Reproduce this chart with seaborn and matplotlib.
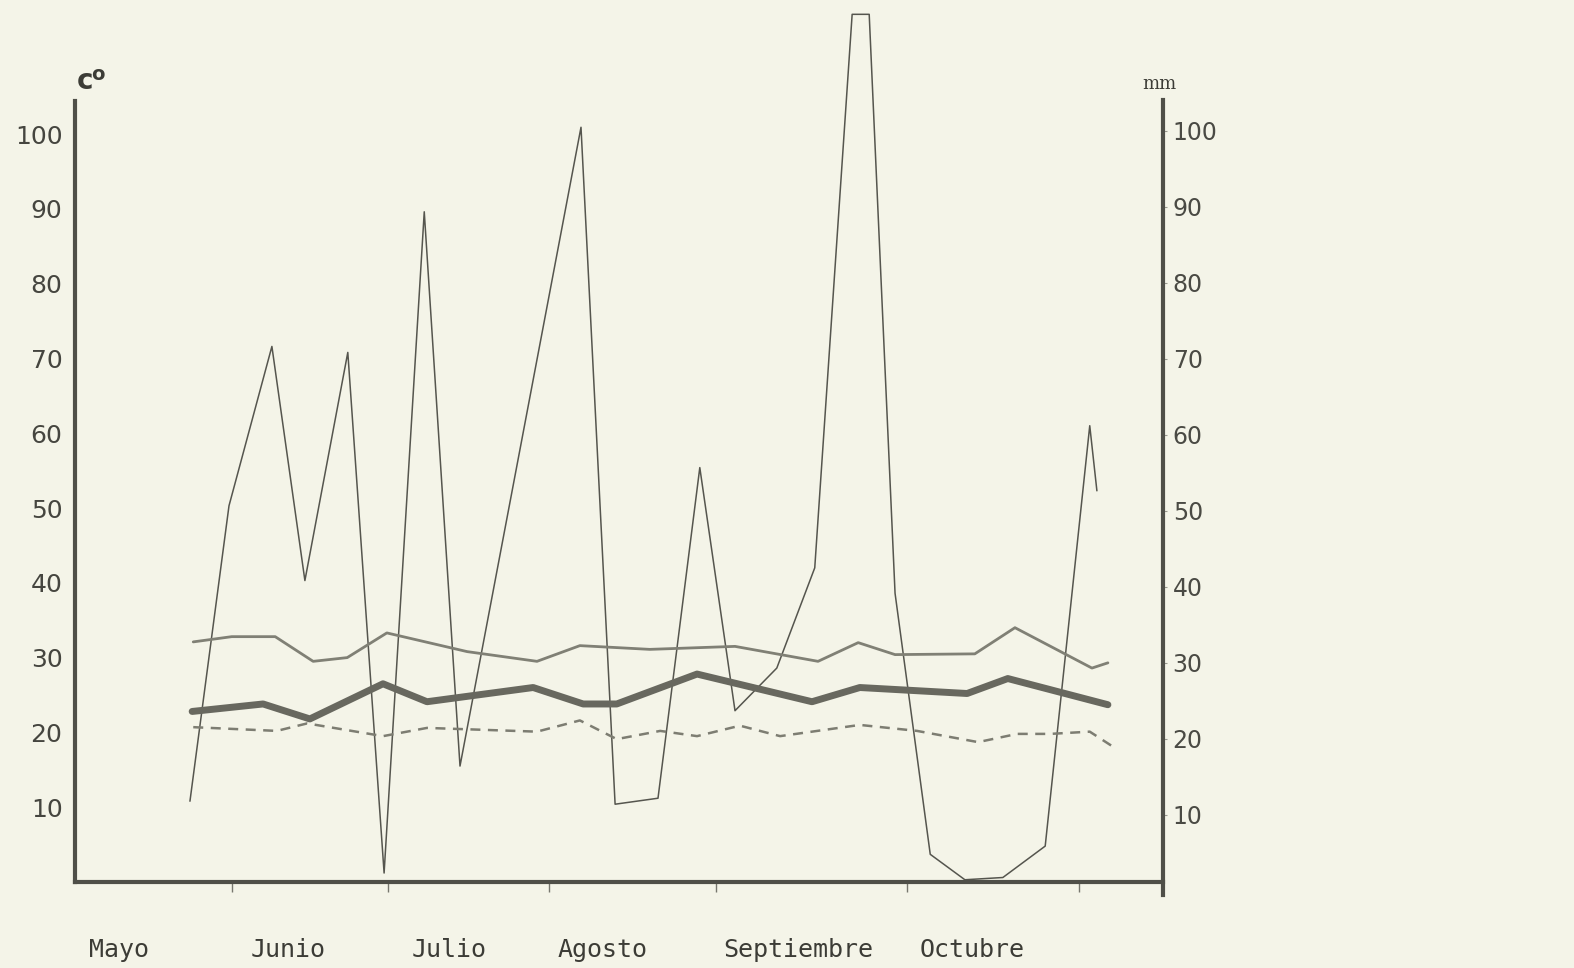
import numpy as np
import pandas as pd
import matplotlib
matplotlib.use("Agg")
import matplotlib.pyplot as plt
import seaborn as sns

# ---- data (x in days from the start of the chart, y in c° / mm) ----
tmax_x = [21.5, 28.5, 36.4, 43.3, 49.5, 56.7, 71.3, 84.0, 91.8, 104.5, 120.0,
          135.1, 142.4, 149.1, 163.6, 170.9, 184.9, 187.8]
tmax_y = [32.1, 32.8, 32.8, 29.5, 30.0, 33.3, 30.8, 29.5, 31.6, 31.1, 31.5,
          29.5, 32.0, 30.4, 30.5, 34.0, 28.6, 29.3]

tmean_x = [21.3, 34.2, 42.7, 56.0, 64.0, 83.3, 92.4, 98.5, 113.1, 134.0,
           142.7, 162.2, 169.6, 187.8]
tmean_y = [22.8, 23.8, 21.8, 26.5, 24.1, 26.0, 23.8, 23.8, 27.8, 24.1,
           26.0, 25.2, 27.2, 23.7]

tmin_x = [21.5, 36.7, 42.2, 56.0, 64.0, 84.0, 91.8, 98.5, 106.4, 113.1, 120.9,
          128.2, 142.7, 153.1, 164.2, 171.3, 177.3, 184.5, 188.7]
tmin_y = [20.7, 20.2, 21.2, 19.5, 20.6, 20.1, 21.6, 19.1, 20.2, 19.5, 20.9,
          19.5, 21.0, 20.2, 18.7, 19.8, 19.8, 20.1, 18.1]

prec_x = [20.9, 28.0, 35.8, 41.8, 49.6, 56.2, 63.5, 70.0, 92.0, 98.2, 106.0,
          113.6, 120.0, 127.6, 134.5, 141.3, 144.4, 149.1, 155.5, 161.8, 168.7,
          176.4, 184.5, 185.8]
prec_y = [10.8, 50.3, 71.6, 40.3, 70.8, 1.2, 89.6, 15.5, 100.9, 10.4, 11.2,
          55.4, 22.9, 28.6, 42.0, 116.0, 116.0, 38.6, 3.7, 0.3, 0.6,
          4.8, 61.0, 52.3]

month_ticks = [28.5, 56.9, 86.2, 116.5, 151.3, 182.5]
month_label_pos = [8.0, 38.7, 68.0, 96.0, 131.5, 163.1]
month_labels = ["Mayo", "Junio", "Julio", "Agosto", "Septiembre", "Octubre"]

left_ticks = [10, 20, 30, 40, 50, 60, 70, 80, 90, 100]
right_ticks = [10, 20, 30, 40, 50, 60, 70, 80, 90, 100]

# ---- style ----
BG = "#f4f4e8"
INK = "#4f4f48"
sns.set_theme(style="white")
plt.rcParams['font.family'] = ['DejaVu Sans']

W, H = 1574, 968
fig = plt.figure(figsize=(W / 100, H / 100), dpi=100, facecolor=BG)
ax = fig.add_axes([75 / W, (H - 882) / H, 1088 / W, 882 / H])
ax.set_facecolor(BG)
ax.set_xlim(0, 1088 / 5.5)
ax.set_ylim(0, 882 / 7.48)

df_max = pd.DataFrame({"x": tmax_x, "y": tmax_y})
df_mean = pd.DataFrame({"x": tmean_x, "y": tmean_y})
df_min = pd.DataFrame({"x": tmin_x, "y": tmin_y})
df_prec = pd.DataFrame({"x": prec_x, "y": prec_y})

sns.lineplot(data=df_prec, x="x", y="y", ax=ax, color="#55554e", lw=1.1,
             estimator=None, sort=False)
sns.lineplot(data=df_max, x="x", y="y", ax=ax, color="#808075", lw=2.0,
             estimator=None, sort=False)
sns.lineplot(data=df_mean, x="x", y="y", ax=ax, color="#68685f", lw=5.0,
             estimator=None, sort=False, solid_capstyle="round")
sns.lineplot(data=df_min, x="x", y="y", ax=ax, color="#7d7d72", lw=1.8,
             estimator=None, sort=False, linestyle=(0, (4, 3)))

ax.set_xlabel("")
ax.set_ylabel("")

# spines
ax.spines["top"].set_visible(False)
ax.spines["right"].set_visible(False)
for s in ["left", "bottom"]:
    ax.spines[s].set_color(INK)
    ax.spines[s].set_linewidth(3.0)
ax.spines["left"].set_bounds(0, 104.4)

# left ticks
ax.set_yticks(left_ticks)
ax.set_yticklabels([str(v) for v in left_ticks])
ax.tick_params(axis="y", left=True, length=0, pad=9, labelsize=18, labelcolor="#45453f")

# x ticks
ax.set_xticks(month_ticks)
ax.set_xticklabels([""] * len(month_ticks))
ax.tick_params(axis="x", which="major", bottom=True, direction="out", length=7,
               width=1.0, color="#77776e")
ax.set_xticks(month_label_pos, minor=True)
ax.set_xticklabels(month_labels, minor=True, family="DejaVu Sans Mono",
                   fontsize=18, color="#3c3c36")
ax.tick_params(axis="x", which="minor", bottom=True, length=0, pad=40)

# right axis (mm)
ax2 = ax.twinx()
ax2.set_ylim((891 - 882) / 7.6, 891 / 7.6)
ax2.spines["top"].set_visible(False)
ax2.spines["left"].set_visible(False)
ax2.spines["bottom"].set_visible(False)
ax2.spines["right"].set_color(INK)
ax2.spines["right"].set_linewidth(3.0)
ax2.spines["right"].set_bounds(-0.5, 104.1)
ax2.set_yticks(right_ticks)
ax2.set_yticklabels([str(v) for v in right_ticks])
ax2.tick_params(axis="y", right=True, length=3, width=0.8, color="#9a9a90",
                direction="out", pad=4, labelsize=17, labelcolor="#4a4a44")
ax2.grid(False)
ax.grid(False)

# axis unit labels
fig.text(77 / W, 1 - 95 / H, "c", fontsize=20, fontweight="bold", color="#3c3c36",
         ha="left", va="bottom")
fig.text(91 / W, 1 - 84 / H, "o", fontsize=14, fontweight="bold", color="#3c3c36",
         ha="left", va="bottom")
fig.text(1159 / W, 1 - 93 / H, "mm", fontsize=13, family="DejaVu Serif",
         color="#3c3c36", ha="center", va="bottom")

fig.savefig("out.png", dpi=100, facecolor=BG)
